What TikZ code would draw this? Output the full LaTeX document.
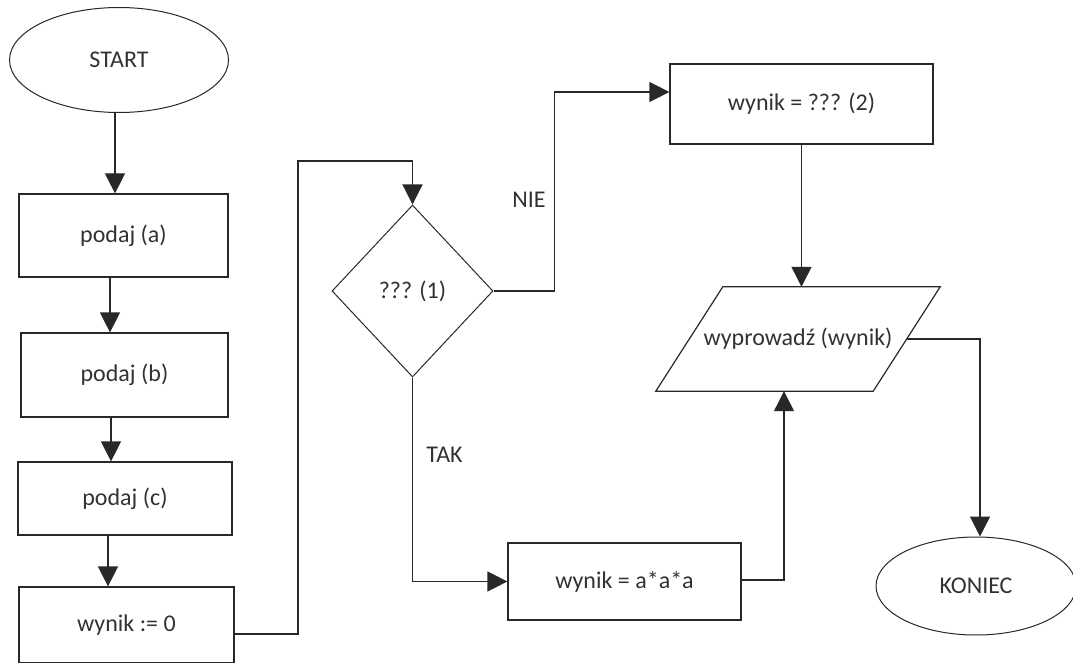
\documentclass[tikz,border=0pt]{standalone}
\usepackage{fontspec}
\setmainfont{Carlito}
\usepackage{xcolor}
\usepackage{tikz}
\usetikzlibrary{shapes.geometric, arrows.meta, positioning, calc}
\definecolor{strokegray}{RGB}{40, 40, 40}
\definecolor{labeltext}{RGB}{50, 50, 50}

\tikzset{
  flowbox/.style={draw=strokegray, line width=1.2pt, rectangle, inner sep=0pt},
  terminal/.style={draw=strokegray, line width=1pt, ellipse, inner sep=0pt},
  question/.style={draw=strokegray, line width=1pt, diamond, inner sep=0pt},
  outbox/.style={rectangle, inner sep=0pt},
  outline/.style={draw=strokegray, line width=1.2pt, line join=miter},
  flowarrow/.style={draw=strokegray, line width=1.2pt, -{Triangle[width=20pt,length=20pt]}}
}

\begin{document}
\begin{tikzpicture}[x=1pt, y=-1pt, text=labeltext, font=\fontsize{24}{29}\selectfont]
    \useasboundingbox (0,0) rectangle (1073,663);

    % left column
    \node[terminal, minimum width=219pt, minimum height=105pt] (start) at (119,60) {START};
    \node[flowbox, minimum width=209pt, minimum height=83pt] (a) at (123.5,235.5) {podaj (a)};
    \node[flowbox, minimum width=207pt, minimum height=84pt] (b) at (124.5,375) {podaj (b)};
    \node[flowbox, minimum width=214pt, minimum height=73pt] (c) at (125,498.5) {podaj (c)};
    \node[flowbox, minimum width=215pt, minimum height=76pt] (zero) at (126.5,625) {wynik := 0};

    % decision and branches
    \node[question, minimum width=161pt, minimum height=172pt] (q1) at (412.5,291) {??? (1)};
    \node[flowbox, minimum width=263pt, minimum height=80pt] (q2) at (801.5,104) {wynik = ??? (2)};
    \node[flowbox, minimum width=233pt, minimum height=77pt] (cube) at (624.5,581.5) {wynik = a*a*a};
    \node[outbox, minimum width=217pt, minimum height=104pt] (print) at (798,339) {wyprowadź (wynik)};
    \draw[outline] ([xshift=33.5pt]print.north west) -- ([xshift=33.5pt]print.north east)
        -- ([xshift=-33.5pt]print.south east) -- ([xshift=-33.5pt]print.south west) -- cycle;
    \node[terminal, minimum width=200pt, minimum height=98pt] (stop) at (976,586) {KONIEC};

    % connectors
    \draw[flowarrow] ([xshift=-4pt]start.south) -- ([xshift=-8.5pt]a.north);
    \draw[flowarrow] ([xshift=-13.5pt]a.south) -- ([xshift=-13.5pt]a.south |- b.north);
    \draw[flowarrow] ([xshift=-13.5pt]b.south) -- ([xshift=-13.5pt]b.south |- c.north);
    \draw[flowarrow] ([xshift=-17pt]c.south) -- ([xshift=-17pt]c.south |- zero.north);
    \draw[flowarrow] ([yshift=-9pt]zero.east) -| (298,161) -| (q1.north);
    \draw[flowarrow] (q1.east) -- ++(61,0) |- node[pos=0.23, left=5pt] {NIE} ([yshift=12pt]q2.west);
    \draw[flowarrow] (q1.south) |- node[pos=0.19, right=10pt] {TAK} (cube.west);
    \draw[flowarrow] (q2.south) -- (q2.south |- print.north);
    \draw[flowarrow] ([yshift=1.5pt]cube.east) -| ([xshift=-14pt]print.south);
    \draw[flowarrow] (print.east) -| ([xshift=4pt]stop.north);
\end{tikzpicture}
\end{document}
